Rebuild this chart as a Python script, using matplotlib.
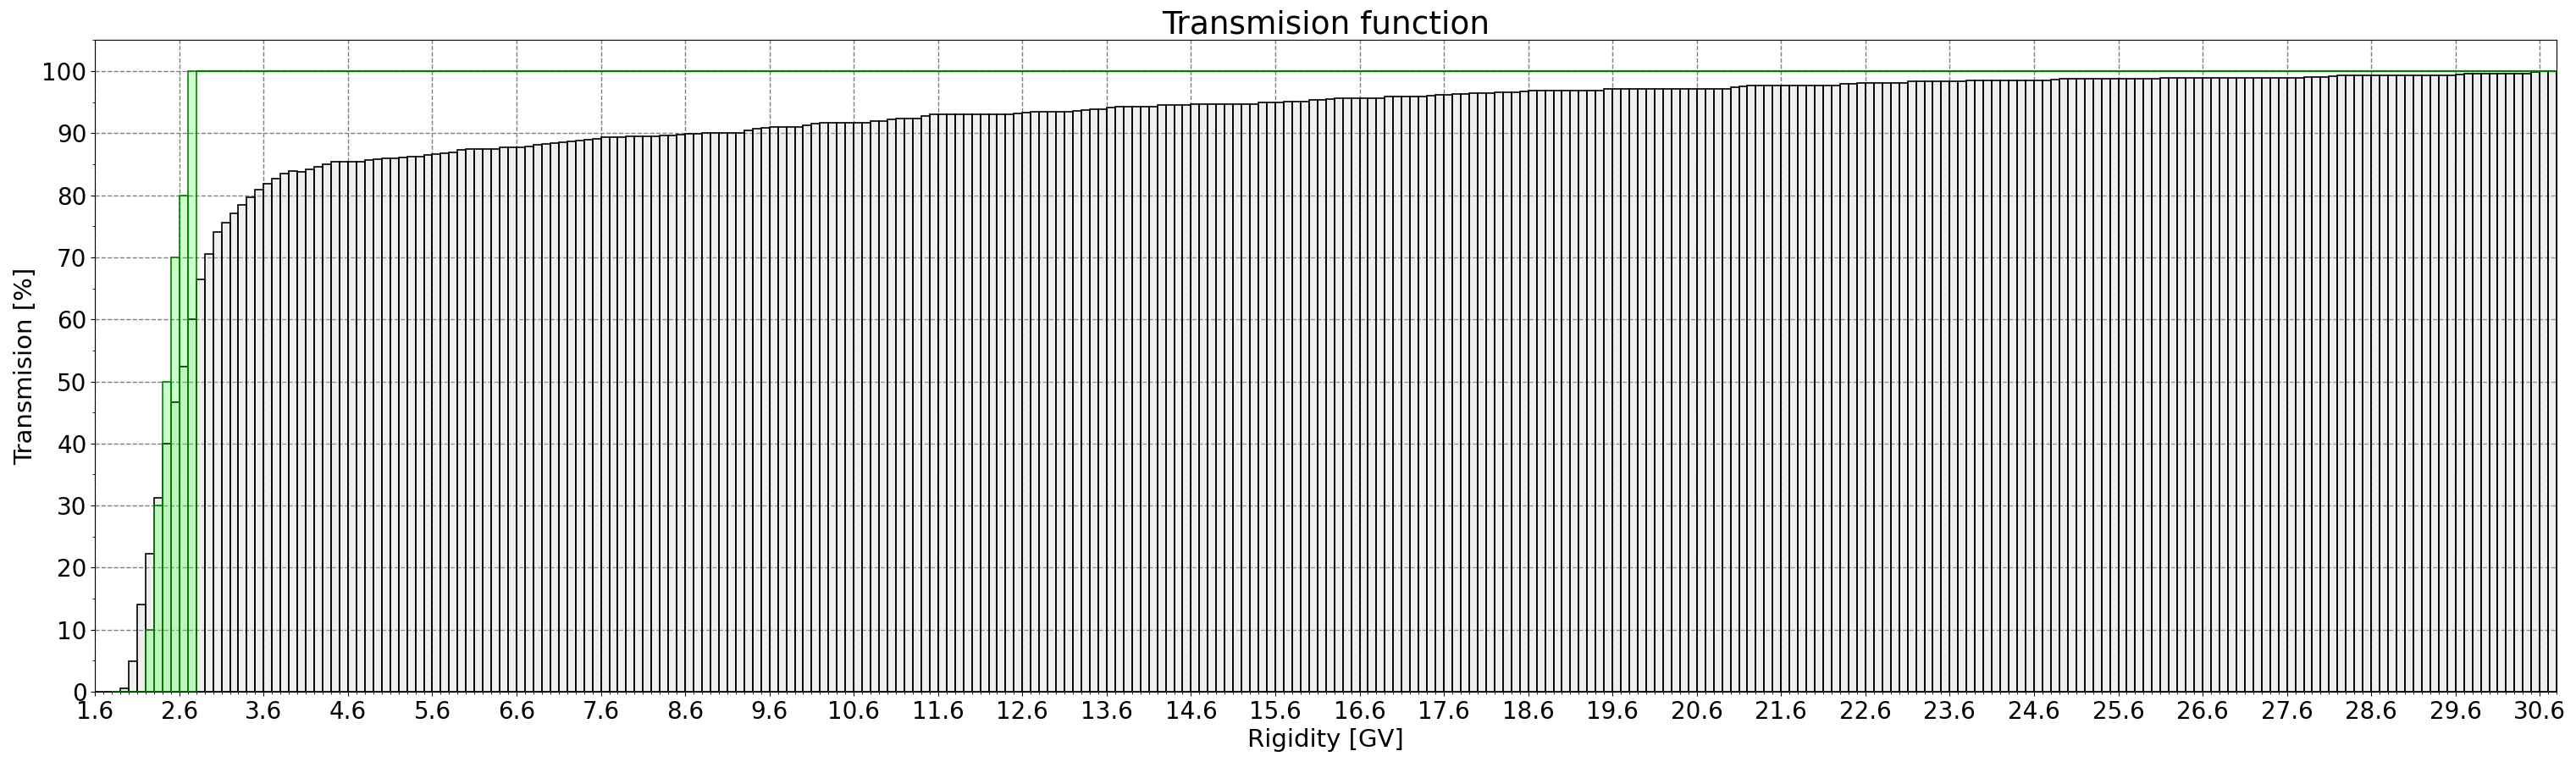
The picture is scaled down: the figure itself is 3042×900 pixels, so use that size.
import numpy as np
import matplotlib
matplotlib.use("Agg")
import matplotlib.pyplot as plt
from matplotlib.ticker import MultipleLocator

# rigidity bins (GV), width 0.1, first bin starts at 1.6
r_start = 1.6
bin_width = 0.1
r_max = 30.8

# transmission per bin [%], rows of 10 bins (1.6-2.5, 2.6-3.5, ...)
transmission = [
    0.0, 0.0, 0.0, 0.5, 4.9, 14.1, 22.3, 31.2, 40.0, 46.6,
    52.4, 60.0, 66.5, 70.6, 74.1, 75.6, 77.1, 78.4, 79.7, 80.9,
    81.9, 82.7, 83.5, 83.9, 83.8, 84.2, 84.6, 85.0, 85.4, 85.4,
    85.4, 85.4, 85.7, 85.8, 85.9, 85.9, 86.1, 86.2, 86.2, 86.5,
    86.6, 86.8, 86.9, 87.3, 87.4, 87.4, 87.4, 87.4, 87.7, 87.7,
    87.7, 87.9, 88.1, 88.3, 88.4, 88.5, 88.7, 88.8, 89.0, 89.1,
    89.3, 89.3, 89.3, 89.5, 89.5, 89.5, 89.5, 89.6, 89.6, 89.7,
    89.9, 89.9, 90.0, 90.1, 90.1, 90.1, 90.1, 90.5, 90.7, 90.9,
    91.0, 91.0, 91.0, 91.0, 91.2, 91.5, 91.7, 91.7, 91.7, 91.7,
    91.7, 91.7, 91.9, 91.9, 92.2, 92.4, 92.4, 92.4, 92.8, 93.0,
    93.0, 93.0, 93.0, 93.0, 93.0, 93.0, 93.0, 93.0, 93.0, 93.15,
    93.3, 93.4, 93.4, 93.4, 93.4, 93.4, 93.6, 93.7, 93.9, 93.9,
    94.2, 94.3, 94.3, 94.3, 94.3, 94.3, 94.5, 94.6, 94.6, 94.6,
    94.7, 94.7, 94.7, 94.7, 94.7, 94.7, 94.7, 94.7, 94.9, 95.0,
    95.0, 95.1, 95.1, 95.1, 95.3, 95.3, 95.5, 95.6, 95.6, 95.6,
    95.6, 95.6, 95.6, 95.85, 95.85, 95.85, 95.85, 95.85, 96.0, 96.2,
    96.2, 96.3, 96.3, 96.5, 96.5, 96.5, 96.6, 96.6, 96.6, 96.75,
    96.9, 96.9, 96.9, 96.9, 96.9, 96.9, 96.9, 96.9, 96.9, 97.1,
    97.1, 97.1, 97.1, 97.1, 97.1, 97.1, 97.1, 97.1, 97.1, 97.1,
    97.1, 97.1, 97.2, 97.2, 97.4, 97.6, 97.7, 97.7, 97.7, 97.7,
    97.7, 97.7, 97.7, 97.7, 97.7, 97.7, 97.7, 97.9, 98.0, 98.15,
    98.15, 98.15, 98.15, 98.15, 98.15, 98.4, 98.4, 98.4, 98.4, 98.4,
    98.4, 98.4, 98.55, 98.55, 98.55, 98.55, 98.55, 98.55, 98.55, 98.55,
    98.55, 98.55, 98.7, 98.8, 98.8, 98.8, 98.8, 98.8, 98.8, 98.8,
    98.8, 98.8, 98.8, 98.8, 98.8, 98.9, 98.9, 98.9, 98.9, 98.9,
    98.9, 98.9, 98.9, 98.9, 98.9, 98.9, 98.9, 98.9, 98.9, 98.9,
    98.9, 98.9, 99.05, 99.05, 99.05, 99.2, 99.3, 99.3, 99.3, 99.3,
    99.3, 99.3, 99.3, 99.3, 99.3, 99.3, 99.3, 99.3, 99.3, 99.3,
    99.45, 99.55, 99.55, 99.55, 99.55, 99.55, 99.55, 99.55, 99.55, 99.8,
    99.95, 100.0,
]

# penumbra (green) bins: starting at 1.8 GV
pen_start = 1.8
penumbra = [0.0, 0.0, 0.0, 0.0, 10.0, 30.0, 50.0, 70.0, 80.0, 100.0]
above_cutoff = 100.0

left = r_start + bin_width * np.arange(len(transmission))
pen_left = pen_start + bin_width * np.arange(len(penumbra))
pen_end = pen_left[-1] + bin_width

fig = plt.figure(figsize=(30.42, 9), dpi=100)
ax = fig.add_axes([0.0369, 0.0922, 0.9556, 0.8552])

ax.grid(True, which="major", linestyle="--", color="gray", linewidth=1.0, zorder=0)
ax.bar(left, transmission, width=bin_width, align="edge",
       facecolor=(0.8, 0.8, 0.8, 0.3), edgecolor="black", linewidth=1.2, zorder=2)
ax.bar(pen_left, penumbra, width=bin_width, align="edge",
       facecolor=(0.0, 1.0, 0.0, 0.2), edgecolor="green", linewidth=1.2, zorder=3)
ax.hlines(above_cutoff, pen_end, r_max, color="green", linewidth=1.6, zorder=3)

ax.set_xlim(r_start, r_max)
ax.set_ylim(0, 105)
ax.xaxis.set_minor_locator(MultipleLocator(0.1))
ax.yaxis.set_major_locator(MultipleLocator(10))
ax.yaxis.set_minor_locator(MultipleLocator(5))
ax.set_xticks(np.arange(r_start, r_max, 1.0))
ax.set_xticklabels([f"{v:.1f}" for v in np.arange(r_start, r_max, 1.0)])
ax.tick_params(axis="both", which="major", labelsize=20)

ax.set_title("Transmision function", fontsize=27)
ax.set_xlabel("Rigidity [GV]", fontsize=21)
ax.set_ylabel("Transmision [%]", fontsize=21)

fig.savefig("out.png", dpi=100)
